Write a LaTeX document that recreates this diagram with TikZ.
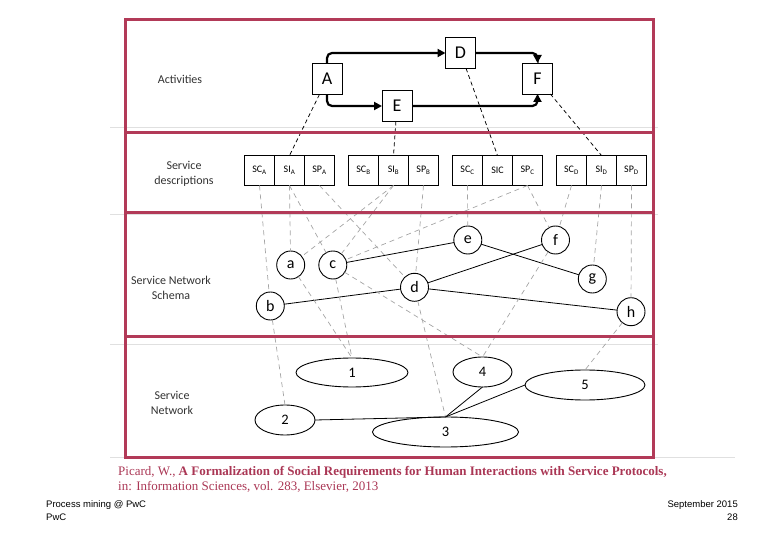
\documentclass[tikz,border=0pt]{standalone}
\usepackage{fontspec}
\setmainfont{Carlito}
\newfontfamily\citefont{Liberation Serif}
\newfontfamily\footfont{Liberation Sans}
\usepackage{tikz}
\usetikzlibrary{shapes.geometric,arrows.meta,positioning}
\definecolor{cFrame}{RGB}{178,58,88}
\definecolor{cCite}{RGB}{170,55,85}
\definecolor{cGuide}{RGB}{224,224,224}
\definecolor{cDash}{RGB}{165,165,165}
\definecolor{cText}{RGB}{50,50,50}
\tikzset{
  basebox/.style={draw=black,line width=0.9pt,inner sep=0pt,outer sep=0pt,
                  align=center,fill=white},
  actnode/.style={basebox,rectangle,minimum width=30pt,minimum height=31pt,
                  font=\fontsize{18}{20}\selectfont},
  descnode/.style={basebox,rectangle,line width=0.8pt,minimum width=30pt,
                   minimum height=30pt,font=\fontsize{10}{12}\selectfont},
  schemanode/.style={basebox,circle,minimum size=28pt,
                     font=\fontsize{16}{18}\selectfont},
  netnode/.style={basebox,ellipse,font=\fontsize{14.5}{16}\selectfont},
  lanelbl/.style={align=center,text=cText,font=\fontsize{12}{15}\selectfont},
  lanebox/.style={draw=cFrame,line width=3pt},
  guide/.style={draw=cGuide,line width=1pt},
  flowarr/.style={->,>={Triangle[length=8pt,width=8pt]},line width=2.2pt,
                  rounded corners=5pt},
  maparr/.style={dash pattern=on 4pt off 3pt,line width=0.75pt},
  linkarr/.style={cDash,dash pattern=on 5pt off 4pt,line width=0.7pt},
  edgeline/.style={line width=0.8pt},
  citetext/.style={anchor=base west,inner sep=0pt,text=cCite,
                   font=\citefont\fontsize{13}{15}\selectfont},
  foottext/.style={inner sep=0pt,font=\footfont\fontsize{9.5}{11}\selectfont}
}

\begin{document}
\begin{tikzpicture}[x=1pt,y=-1pt]
  \useasboundingbox (0,0) rectangle (780,540);

  % slide guides
  \draw[guide] (110,128) -- (658,128);
  \draw[guide] (110,215) -- (658,215);
  \draw[guide] (110,345) -- (658,345);
  \draw[guide] (110,457) -- (735,457);

  % Lane labels
  \node[lanelbl] (lblAct) at (180,79) {Activities};
  \node[lanelbl] (lblDesc) at (184,174) {Service\\descriptions};
  \node[lanelbl] (lblSchema) at (171,288) {Service Network\\Schema};
  \node[lanelbl] (lblNet) at (172,403) {Service\\Network};

  % Activities
  \node[actnode] (A) at (327,79) {A};
  \node[actnode] (D) at (460.5,53) {D};
  \node[actnode] (E) at (397,106) {E};
  \node[actnode] (F) at (537.5,78.5) {F};

  \draw[flowarr] (A.north) |- (D.west);
  \draw[flowarr] (A.south) |- (E.west);
  \draw[flowarr] (D.east) -| (F.north);
  \draw[flowarr] (E.east) -| (F.south);

  % Service descriptions
  \node[descnode] (scA) at (259.5,170.5) {SC\textsubscript{A}};
  \node[descnode,right=0pt of scA] (siA) {SI\textsubscript{A}};
  \node[descnode,right=0pt of siA] (spA) {SP\textsubscript{A}};
  \node[descnode,right=14pt of spA] (scB) {SC\textsubscript{B}};
  \node[descnode,right=0pt of scB] (siB) {SI\textsubscript{B}};
  \node[descnode,right=0pt of siB] (spB) {SP\textsubscript{B}};
  \node[descnode,right=14pt of spB] (scC) {SC\textsubscript{C}};
  \node[descnode,right=0pt of scC] (siC) {SIC};
  \node[descnode,right=0pt of siC] (spC) {SP\textsubscript{C}};
  \node[descnode,right=14pt of spC] (scD) {SC\textsubscript{D}};
  \node[descnode,right=0pt of scD] (siD) {SI\textsubscript{D}};
  \node[descnode,right=0pt of siD] (spD) {SP\textsubscript{D}};

  % Service network schema
  \node[schemanode] (a) at (290.7,265) {a};
  \node[schemanode] (c) at (332.8,265) {c};
  \node[schemanode] (e) at (467.8,240) {e};
  \node[schemanode] (f) at (555.5,240) {f};
  \node[schemanode] (g) at (592.3,279) {g};
  \node[schemanode] (d) at (414.5,287.3) {d};
  \node[schemanode] (b) at (270.3,306) {b};
  \node[schemanode] (h) at (631,311.7) {h};

  % Service network
  \node[netnode,minimum width=112pt,minimum height=29pt] (n1) at (352,372.5) {1};
  \node[netnode,minimum width=59pt,minimum height=30pt] (n4) at (482.5,372) {4};
  \node[netnode,minimum width=120pt,minimum height=30pt] (n5) at (585,385) {5};
  \node[netnode,minimum width=60pt,minimum height=30pt] (n2) at (285,420) {2};
  \node[netnode,minimum width=146pt,minimum height=30pt] (n3) at (445.5,432) {3};

  % activities to descriptions
  \draw[maparr] (A) -- (siA.north);
  \draw[maparr] (E) -- (siB.north);
  \draw[maparr] (D) -- (siC.north);
  \draw[maparr] (F) -- (siD.north);

  % descriptions to schema
  \foreach \src/\dst in {scA/b,siA/a,siA/c,spA/d,siB/a,siB/c,spB/d,
                         scC/e,spC/c,spC/f,scD/f,siD/g,spD/h}
    \draw[linkarr] (\src.south) -- (\dst);

  % schema edges
  \foreach \src/\dst in {c/e,b/d,d/f,d/h,e/g}
    \draw[edgeline] (\src) -- (\dst);

  % schema to network
  \foreach \src/\dst in {b/n2,a/n1,c/n1,c/n4,d/n3,f/n4,h/n5}
    \draw[linkarr] (\src) -- (\dst.north);

  % network edges
  \draw[edgeline] (n2.east) -- (n3.north);
  \draw[edgeline] (n3.north) -- (n4.south);
  \draw[edgeline] (n3.north) -- (n5.west);

  % Lanes
  \draw[lanebox] (125,20) rectangle (653,457);
  \draw[lanebox] (125,133) -- (653,133);
  \draw[lanebox] (125,213) -- (653,213);
  \draw[lanebox] (125,337) -- (653,337);

  % Reference
  \node[citetext] (cite1) at (118,475)
      {Picard, W., \textbf{A Formalization of Social Requirements for Human Interactions with Service Protocols,}};
  \node[citetext] (cite2) at (118,490)
      {in: Information Sciences, vol. 283, Elsevier, 2013};

  % Footer
  \node[foottext,anchor=base west] (foot1) at (46,507) {Process mining @ PwC};
  \node[foottext,anchor=base west] (foot2) at (46,520) {PwC};
  \node[foottext,anchor=base east] (foot3) at (738,507) {September 2015};
  \node[foottext,anchor=base east] (foot4) at (738,520) {28};

\end{tikzpicture}
\end{document}
